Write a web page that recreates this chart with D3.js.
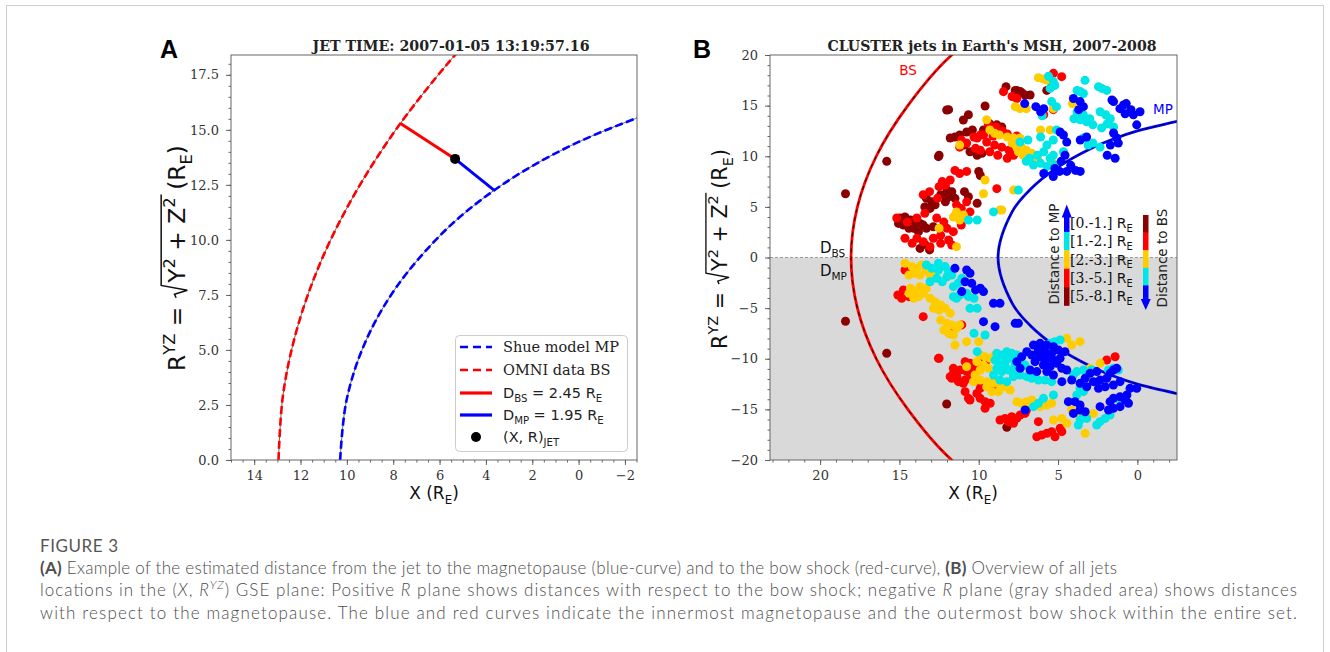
<!DOCTYPE html>
<html>
<head>
<meta charset="utf-8">
<script src="https://cdn.jsdelivr.net/npm/d3@7/dist/d3.min.js"></script>
<style>
  body { margin: 0; background: #fff; }
  svg { display: block; }
</style>
</head>
<body>
<svg id="fig" width="1330" height="652"></svg>
<script>
// ---------- Panel A: boundary curves, (X, R) in Earth radii ----------
const mpCurveA = [[10.29,0],[10.02,2.69],[9.22,5.32],[7.86,7.86],[5.92,10.26],[4.28,11.76],[2.32,13.16],[0,14.45],[-2.76,15.63],[-4.33,16.17]];
const bsCurveA = [[12.95,0],[12.75,3],[12.14,6],[11.13,9],[9.71,12],[7.89,15],[5.66,18],[3.95,20]];
const jetPointA = [5.33, 13.68];
const bsFootA = [7.7, 15.3];
const mpFootA = [3.65, 12.26];
const distBS = 2.45, distMP = 1.95;
const jetTime = "2007-01-05 13:19:57.16";

// ---------- Panel B: outermost bow shock / innermost magnetopause (upper half, mirrored) ----------
const bsCurveB = [[18.05,0],[17.65,5],[16.46,10],[14.47,15],[11.7,20],[10.3,21.5]];
const mpCurveB = [[8.78,0],[7.88,4.55],[6.74,6.74],[5.10,8.83],[2.89,10.79],[1.51,11.7],[0,12.5],[-2.5,13.45],[-3.4,13.8]];

// distance bins
const binLabels = ["[0.-1.]","[1.-2.]","[2.-3.]","[3.-5.]","[5.-8.]"];
const binColors = ["#0000ff","#00e5e5","#ffcc00","#ff0000","#8b0000"];

// jet locations (X, R) grouped by distance bin
const jetsBin58 = [
 [15.8,9.5],[12.54,9.96],[12.02,14.57],[9.6,14.96],[8.28,16.87],[7.6,16.5],[7.29,16.28],[7.08,16.05],[5.71,16.5],[7.7,16.5],[7.39,16.4],[6.76,16.05],[5.4,16.9],
 [10.76,12.4],[10.4,12.6],[11.2,12.1],[11.5,11.9],[11.8,11.8],[10.9,11.1],[10.55,10.45],[10.1,10.1],[9.8,10.3],[8.86,13.1],[9.0,12.4],[8.55,12.9],[9.3,13.2],
 [11.9,14.6],[10.65,14.1],[12.5,10.1],[10.97,13.58],[9.7,12.6],
 [10.0,8.5],[9.9,8.1],
 [12.0,6.66],[11.7,6.5],[11.9,6.0],[11.5,5.84],[12.1,5.5],[12.4,6.2],
 [10.9,6.5],[10.65,6.0],[10.1,5.35],
 [13.3,5.84],[12.96,5.5],[12.75,5.2],[13.07,4.85],[13.4,5.0],
 [14.96,3.9],[14.65,4.0],[14.3,3.7],[14.0,3.5],[13.7,3.37],[13.5,3.2],[14.1,2.88],[13.8,2.55],[13.3,2.88],[12.86,3.04],[14.75,3.2],[14.4,2.88],[15.06,3.37],
 [13.7,0.9],[13.1,0.75],[13.4,1.3],
 [18.4,6.3],[18.4,-6.3],[15.8,-9.46],[12.02,-14.47],[8.23,-16.77]
];
const jetsBin35 = [
 [8.44,16.38],[5.29,18.19],[4.77,17.86],[7.9,15.9],[7.6,15.7],[5.3,14.6],[5.9,14.1],
 [9.7,12.1],[9.9,12.1],[10.1,11.8],[9.5,11.4],[9.0,11.1],[8.55,10.9],[8.1,10.6],[7.8,10.1],[8.2,9.8],[8.8,10.1],[9.3,10.45],[9.9,10.6],[10.2,10.78],
 [11.1,11.6],[10.76,11.3],[10.3,11.9],[11.2,10.9],[9.4,13.2],[8.9,12.9],[8.5,12.5],[8.2,12.2],[9.1,12.0],[7.6,12.0],
 [11.5,8.6],[11.2,8.3],[10.76,8.5],[8.86,6.8],
 [12.3,7.5],[12.1,7.16],[11.8,7.65],[12.5,7.0],
 [13.5,6.2],[13.1,6.5],[12.6,5.84],
 [11.4,5.2],[11.1,4.85],[10.76,5.5],[10.55,4.5],
 [15.17,3.9],[14.5,3.5],[13.9,3.9],[13.4,4.36],[12.65,3.9],[12.2,3.5],[12.0,2.88],[11.6,2.55],[12.4,2.2],[12.86,1.9],[13.5,1.56],[13.9,1.9],[14.2,1.4],[14.65,1.9],[13.07,1.07],[12.4,1.4],[11.9,1.73],[11.7,1.23],[11.1,3.2],
 [12.54,-9.96],[14.65,-1.23],[14.2,-1.4],[14.75,-3.2],[15.1,-3.7],[14.86,-4.03],[14.4,-3.87],[13.5,-5.84],[11.07,-6.66],[11.8,-7.49],[12.5,-9.96],
 [10.86,-10.29],[10.55,-10.45],[10.23,-10.62],[9.91,-10.29],[9.5,-10.12],[11.17,-11.11],[10.76,-11.27],[10.33,-11.11],[11.6,-11.44],[11.7,-11.93],[11.28,-12.26],[10.86,-12.1],[10.44,-11.77],[10.97,-12.43],[9.91,-12.92],[10.12,-13.42],[9.81,-12.43],[9.39,-12.76],[9.07,-12.92],[8.76,-12.76],[8.44,-12.59],[8.97,-12.26],[10.65,-13.91],[9.91,-13.91],[9.6,-14.24],[9.28,-14.4],[10.86,-13.25],[11.6,-10.95],[11.8,-11.77],[11.38,-11.77],
 [10.55,-14.07],[9.6,-14.9],[7.0,-15.1],
 [8.66,-16.05],[8.34,-15.89],[7.92,-15.72],[7.6,-15.89],[7.39,-15.56],[7.08,-15.4],[7.81,-16.38],[8.13,-16.21],
 [6.34,-17.7],[6.03,-17.53],[5.71,-17.37],[5.4,-17.2],[5.19,-17.7],[4.87,-16.87],[4.76,-17.2],[6.24,-16.21],
 [1.93,-10.12],[1.4,-9.8]
];
const jetsBin23 = [
 [6.24,17.76],[5.92,17.63],[5.71,17.53],[7.7,14.9],[7.4,14.7],[7.0,14.7],[5.3,14.7],[4.1,15.2],[5.5,12.6],[6.1,12.6],
 [7.3,10.9],[7.0,10.6],[6.66,10.3],[7.2,10.1],[6.76,9.6],[6.3,9.8],[7.5,10.45],[5.4,9.5],
 [9.3,12.6],[9.0,12.26],[8.7,12.1],[8.2,11.9],[7.8,11.8],[7.4,11.8],[7.9,11.3],[7.6,10.9],
 [9.5,13.6],[11.2,11.1],
 [9.6,7.65],[7.8,6.66],[8.55,4.69],[11.4,4.5],[10.97,4.2],[11.2,3.7],[11.6,4.0],[12.5,2.9],[11.4,1.07],[8.66,4.7],[9.7,6.3],
 [14.65,-0.57],[14.2,-0.9],[13.9,-1.07],[13.6,-0.74],[14.1,-1.56],[13.7,-1.73],[14.4,-1.73],[13.3,-1.23],[13.07,-1.73],[12.75,-1.4],
 [14.3,-3.04],[14.0,-3.37],[13.7,-2.88],[13.5,-3.54],[14.1,-4.03],[13.8,-3.87],[13.3,-3.04],[14.4,-3.54],[13.07,-4.03],[12.75,-4.36],[12.4,-4.69],[12.86,-5.02],[12.5,-5.2],[12.1,-5.02],[11.8,-5.5],
 [12.4,-6.17],[12.0,-6.5],[11.7,-6.66],[11.4,-7.0],[12.2,-7.16],[11.9,-7.49],[11.6,-7.65],[11.2,-6.66],
 [11.5,-8.64],[10.76,-8.31],[10.0,-8.31],
 [9.91,-9.63],[9.6,-9.8],[9.28,-9.96],[8.97,-9.63],[10.12,-10.29],[9.7,-10.62],[9.39,-10.95],[9.91,-11.11],[10.23,-11.6],[9.91,-12.1],[9.5,-12.26],[9.07,-12.43],[8.66,-12.59],[8.34,-12.76],[8.02,-13.09],[8.76,-13.25],[9.18,-13.25],[9.5,-12.76],[10.33,-12.26],[10.76,-10.78],
 [7.6,-14.24],[7.29,-14.4],[6.97,-14.24],[6.66,-14.07],[6.34,-14.4],[6.13,-14.73],[5.71,-14.57],[5.4,-14.4],
 [5.29,-16.05],[4.76,-15.89],[4.45,-16.38],[4.14,-15.06],[3.61,-14.9],[3.29,-17.37],[3.61,-15.72],[3.19,-15.56],[2.77,-15.4],
 [2.35,-10.45],[2.98,-10.95],[4.45,-7.98],[3.61,-8.31],[4.14,-8.64]
];
const jetsBin12 = [
 [5.6,17.9],[5.3,17.4],[5.2,17.0],[5.5,16.7],[3.3,17.5],[2.45,16.87],[2.24,16.7],[1.93,16.5],[3.8,16.5],[3.6,16.4],[3.4,16.2],[5.4,15.4],[5.1,14.9],[6.0,14.0],
 [3.8,14.4],[3.4,14.1],[3.0,13.7],[3.2,13.4],[2.8,13.1],[3.6,13.6],[4.0,13.7],
 [2.35,14.4],[2.0,14.1],[1.7,13.7],[1.9,13.2],[1.5,12.9],[2.25,12.8],
 [2.35,10.9],[2.8,11.3],[3.4,11.8],[3.1,11.1],
 [4.66,10.45],[5.3,10.1],[5.5,9.8],[5.9,10.45],[6.3,10.1],[6.8,9.8],[7.0,9.5],[6.55,9.13],[6.1,9.3],[5.7,9.0],[5.2,9.13],
 [5.7,11.1],[5.3,11.6],[6.1,11.9],[6.9,11.6],[7.4,11.4],[5.1,12.6],
 [7.5,6.66],[9.07,4.5],[10.65,3.7],[10.1,3.7],
 [13.3,-0.74],[12.96,-1.07],[12.54,-0.57],[12.54,-1.23],[12.12,-0.9],[11.9,-1.4],[11.7,-1.73],[12.0,-1.9],[12.65,-2.06],[12.3,-2.39],[13.07,-2.39],
 [11.07,-2.06],[11.3,-2.55],[11.6,-2.88],[11.2,-3.7],[11.4,-4.03],[10.65,-3.87],[10.3,-4.03],[10.76,-3.54],[11.6,-3.87],
 [10.55,-5.02],[10.1,-5.02],[10.3,-7.49],[9.6,-7.65],[10.1,-9.3],
 [8.86,-9.46],[8.55,-9.63],[8.23,-9.3],[7.92,-9.46],[7.6,-9.63],[8.97,-10.12],[8.66,-10.45],[8.34,-10.29],[8.02,-9.96],[7.71,-10.62],[7.39,-10.45],[7.08,-10.62],[8.86,-10.95],[8.55,-11.27],[8.13,-11.11],[7.81,-11.44],[7.39,-11.6],[6.97,-11.77],[6.66,-11.93],[6.24,-12.1],[5.82,-12.1],[5.4,-12.26],[9.07,-11.6],[8.66,-12.1],[8.23,-12.26],[7.81,-11.77],[8.34,-10.78],
 [3.82,-11.27],[3.4,-11.11],[4.03,-11.6],[2.88,-11.11],[1.82,-11.11],[1.51,-10.95],[1.2,-11.11],[3.61,-12.92],[3.4,-13.25],[3.82,-13.58],[1.09,-14.07],[1.72,-15.56],[2.03,-15.89],[2.35,-16.21],[2.56,-16.54],[3.61,-16.05],[3.19,-15.89],[3.72,-16.54],[3.4,-15.72],
 [6.55,-14.73],[6.24,-14.4],[5.92,-13.91],[5.29,-13.58],
 [5.5,-8.48],[5.2,-8.31],[4.87,-8.15]
];
const jetsBin01 = [
 [7.1,15.2],[6.4,14.9],[5.9,14.7],[6.1,14.4],[4.03,15.7],[3.61,15.4],[3.4,14.9],[3.7,14.6],
 [1.5,15.4],[1.1,14.7],[0.7,15.2],[0.4,14.6],[0.25,14.1],[0.77,14.2],[0.04,13.1],[1.6,15.56],[0.87,15.06],[-0.17,14.4],
 [1.5,12.3],[1.3,11.8],[1.2,11.3],[1.7,11.1],[1.9,10.1],[1.4,9.8],
 [4.66,12.1],[4.87,12.4],[4.45,11.4],[3.6,11.6],[3.2,11.9],[4.56,10.1],[4.8,9.5],
 [5.2,8.8],[4.9,8.5],[4.45,8.5],[3.9,8.6],[3.6,8.5],[4.2,9.1],[5.9,8.3],[5.3,8.0],
 [11.5,-1.07],[10.76,-1.23],[10.55,-1.56],[10.86,-2.39],[10.44,-2.55],[10.2,-3.2],[9.9,-3.04],[9.7,-3.37],[11.07,-3.37],
 [9.07,-4.53],[8.66,-4.53],[8.97,-6.83],[9.7,-6.34],[7.7,-6.5],[7.5,-6.5],
 [6.55,-8.64],[6.13,-8.48],[5.71,-8.64],[5.29,-8.81],[6.24,-9.14],[5.82,-9.3],[5.4,-9.46],[4.98,-9.14],[6.66,-9.63],[6.13,-9.8],[5.71,-9.96],[5.29,-10.12],[4.87,-9.96],[6.45,-10.29],[5.92,-10.62],[5.5,-10.78],[5.08,-10.45],[6.76,-11.11],[6.34,-11.27],[5.71,-11.27],[5.29,-11.6],[4.76,-10.95],[6.97,-9.3],[7.29,-9.8],[7.6,-10.29],[7.39,-10.95],[4.56,-9.3],[5.92,-8.97],[5.61,-9.63],[6.34,-9.63],[5.82,-10.29],
 [4.45,-11.11],[4.14,-12.1],[4.76,-12.26],[3.61,-12.43],[3.29,-11.93],[2.98,-11.44],[2.56,-11.27],[2.77,-12.26],[3.19,-12.76],[2.35,-12.1],[1.93,-11.93],[1.72,-11.44],[1.51,-11.11],[1.3,-10.95],[2.03,-12.76],[1.51,-12.59],[2.45,-12.92],[1.09,-12.26],[0.46,-12.92],[0.04,-12.92],
 [4.35,-14.24],[3.93,-14.24],[3.61,-14.57],[3.61,-15.06],[3.29,-15.23],[4.03,-15.4],[1.72,-14.24],[1.51,-13.91],[1.09,-13.75],[0.77,-14.07],[0.56,-14.4],[1.09,-14.73],[1.51,-14.9],[1.82,-15.06],[2.35,-14.73],[0.66,-13.58],
 [7.08,-15.06]
];

// ---------- axis ticks ----------
const xTicksA = [14,12,10,8,6,4,2,0,-2];
const yTicksA = [0,2.5,5,7.5,10,12.5,15,17.5];
const xTicksB = [20,15,10,5,0];
const yTicksB = [-20,-15,-10,-5,0,5,10,15,20];

const svg = d3.select("#fig");
const SANS = "DejaVu Sans", SERIF = "DejaVu Serif";

// page frame
svg.append("rect").attr("x",6.5).attr("y",5.5).attr("width",1317).attr("height",680)
  .attr("fill","none").attr("stroke","#cfcfcf").attr("stroke-width",1);

// ---------- scales ----------
const xA = d3.scaleLinear().domain([15.0,-2.52]).range([231,637]);
const yA = d3.scaleLinear().domain([0,18.4]).range([460,55]);
const xB = d3.scaleLinear().domain([23.16,-2.5]).range([770,1177]);
const yB = d3.scaleLinear().domain([-20,20]).range([460,55]);

function range(a,b,step){ const out=[]; for(let v=a; v<=b+1e-9; v+=step) out.push(+v.toFixed(3)); return out; }

function drawAxes(x, y, xMajor, xMinor, yMajor, yMinor, xFmt, yFmt){
  const [xl,xr] = x.range(); const [yb,yt] = y.range();
  const style = g => {
    g.select(".domain").remove();
    g.selectAll(".tick line").attr("stroke","#555").attr("stroke-width",0.9);
    g.selectAll(".tick text").attr("font-family",SERIF).attr("font-size",13).attr("fill","#333");
  };
  svg.append("g").attr("transform",`translate(0,${yb})`)
    .call(d3.axisBottom(x).tickValues(xMinor).tickSize(2.5).tickFormat("")).call(style);
  svg.append("g").attr("transform",`translate(0,${yb})`)
    .call(d3.axisBottom(x).tickValues(xMajor).tickSize(5).tickPadding(6).tickFormat(xFmt)).call(style);
  svg.append("g").attr("transform",`translate(${xl},0)`)
    .call(d3.axisLeft(y).tickValues(yMinor).tickSize(2.5).tickFormat("")).call(style);
  svg.append("g").attr("transform",`translate(${xl},0)`)
    .call(d3.axisLeft(y).tickValues(yMajor).tickSize(5).tickPadding(7).tickFormat(yFmt)).call(style);
  svg.append("rect").attr("x",xl).attr("y",yt).attr("width",xr-xl).attr("height",yb-yt)
    .attr("fill","none").attr("stroke","#666").attr("stroke-width",1);
}

// text helper: pieces are [string, kind, family, weight, style] with kind "", "sub" or "sup"
function richText(sel, pieces, fs){
  let shift = 0;
  pieces.forEach(([s,k,fam,weight,style]) => {
    const target = k==="sub" ? fs*0.28 : k==="sup" ? -fs*0.42 : 0;
    const ts = sel.append("tspan").attr("dy", target-shift).text(s);
    if (k) ts.attr("font-size", fs*0.7);
    if (fam) ts.attr("font-family", fam);
    if (weight) ts.attr("font-weight", weight);
    if (style) ts.attr("font-style", style);
    shift = target;
  });
  return sel;
}

function yLabel(cx, cy, target){
  const fs = 17;
  const g = svg.append("g").attr("transform",`translate(${cx},${cy}) rotate(-90)`);
  const t = g.append("text").attr("text-anchor","middle").attr("font-family",SANS).attr("font-size",fs).attr("fill","#111");
  const pieces = [["R",""],["YZ","sup"],[" = ",""],["\u2002\u2009",""],["Y",""],["2","sup"],[" + Z",""],["2","sup"],["  (R",""],["E","sub"],[")",""]];
  richText(t, pieces, fs);
  const len = t.node().getComputedTextLength();
  const k = target/len;
  g.attr("transform",`translate(${cx},${cy}) rotate(-90) scale(${k})`);
  // radical sign spanning Y^2 + Z^2
  const n = t.node();
  const iRad = 6, iEnd = 14;
  const xs = n.getStartPositionOfChar(iRad).x;
  const xe = n.getEndPositionOfChar(iEnd).x + 2;
  const top = -fs*1.02;
  g.append("path")
    .attr("d",`M${xs+1},${-fs*0.38} L${xs+3.5},${-fs*0.45} L${xs+6.5},${fs*0.1} L${xs+10},${top} L${xe},${top}`)
    .attr("fill","none").attr("stroke","#111").attr("stroke-width",1.1);
}

function xLabel(cx, y){
  const t = svg.append("text").attr("x",cx).attr("y",y).attr("text-anchor","middle")
    .attr("font-family",SANS).attr("font-size",17).attr("fill","#111");
  richText(t, [["X (R",""],["E","sub"],[")",""]], 17);
}

// ================= Panel A =================
const clipA = svg.append("clipPath").attr("id","clipA").append("rect")
  .attr("x",231).attr("y",55).attr("width",406).attr("height",405);
const pA = svg.append("g").attr("clip-path","url(#clipA)");
const lineA = d3.line().x(d=>xA(d[0])).y(d=>yA(d[1])).curve(d3.curveCatmullRom);

[[mpCurveA,"#0000ff"],[bsCurveA,"#ff0000"]].forEach(([pts,col]) => {
  pA.append("path").attr("d",lineA(pts)).attr("fill","none").attr("stroke","#666").attr("stroke-width",1);
  pA.append("path").attr("d",lineA(pts)).attr("fill","none").attr("stroke",col)
    .attr("stroke-width",2.6).attr("stroke-dasharray","8,3.5");
});
pA.append("line").attr("x1",xA(bsFootA[0])).attr("y1",yA(bsFootA[1]))
  .attr("x2",xA(jetPointA[0])).attr("y2",yA(jetPointA[1])).attr("stroke","#ff0000").attr("stroke-width",3);
pA.append("line").attr("x1",xA(jetPointA[0])).attr("y1",yA(jetPointA[1]))
  .attr("x2",xA(mpFootA[0])).attr("y2",yA(mpFootA[1])).attr("stroke","#0000ff").attr("stroke-width",3);
pA.append("circle").attr("cx",xA(jetPointA[0])).attr("cy",yA(jetPointA[1])).attr("r",5).attr("fill","#000");

drawAxes(xA, yA, xTicksA, range(-2.5,15,0.5), yTicksA, range(0,18,0.5), d3.format("d"), d3.format(".1f"));

// legend A
const legA = svg.append("g");
legA.append("rect").attr("x",455.5).attr("y",335.5).attr("width",172).attr("height",116).attr("rx",4)
  .attr("fill","#fff").attr("fill-opacity",0.85).attr("stroke","#ccc");
const legRows = [
  {y:347, kind:"dash", col:"#0000ff", txt:[["Shue model MP","",SERIF]]},
  {y:370, kind:"dash", col:"#ff0000", txt:[["OMNI data BS","",SERIF]]},
  {y:393, kind:"solid", col:"#ff0000", txt:[["D",""],["BS","sub"],[" = "+distBS.toFixed(2)+" R",""],["E","sub"]]},
  {y:415, kind:"solid", col:"#0000ff", txt:[["D",""],["MP","sub"],[" = "+distMP.toFixed(2)+" R",""],["E","sub"]]},
  {y:437, kind:"dot", col:"#000", txt:[["(X, R)",""],["JET","sub"]]}
];
legRows.forEach(r => {
  if (r.kind==="dot") legA.append("circle").attr("cx",476).attr("cy",r.y).attr("r",5).attr("fill",r.col);
  else legA.append("line").attr("x1",460).attr("x2",492).attr("y1",r.y).attr("y2",r.y)
    .attr("stroke",r.col).attr("stroke-width",r.kind==="solid"?3.2:2.4)
    .attr("stroke-dasharray",r.kind==="dash"?"8,5":null);
  const t = legA.append("text").attr("x",503).attr("y",r.y+5).attr("font-family",SANS).attr("font-size",14.5).attr("fill","#222");
  richText(t, r.txt, 14.5);
});

svg.append("text").attr("x",451).attr("y",51).attr("text-anchor","middle")
  .attr("font-family",SERIF).attr("font-weight","bold").attr("font-size",14).attr("fill","#222")
  .attr("textLength",277).attr("lengthAdjust","spacingAndGlyphs").text("JET TIME: " + jetTime);
svg.append("text").attr("x",160).attr("y",58).attr("font-family","Liberation Sans").attr("font-weight","bold")
  .attr("font-size",25).attr("fill","#000").text("A");
yLabel(185, 258, 226);
xLabel(434, 499);

// ================= Panel B =================
const clipB = svg.append("clipPath").attr("id","clipB").append("rect")
  .attr("x",770).attr("y",55).attr("width",407).attr("height",405);
const pB = svg.append("g").attr("clip-path","url(#clipB)");
pB.append("rect").attr("x",770).attr("y",yB(0)).attr("width",407).attr("height",yB(-20)-yB(0)).attr("fill","#d9d9d9");
pB.append("line").attr("x1",770).attr("x2",1177).attr("y1",yB(0)).attr("y2",yB(0))
  .attr("stroke","#9a9a9a").attr("stroke-width",1).attr("stroke-dasharray","3,2");

const mirror = half => half.slice().reverse().map(d=>[d[0],-d[1]]).concat(half.slice(1));
const lineB = d3.line().x(d=>xB(d[0])).y(d=>yB(d[1])).curve(d3.curveCatmullRom);
[[bsCurveB,"#ff0000"],[mpCurveB,"#0000ff"]].forEach(([half,col]) => {
  const full = mirror(half);
  pB.append("path").attr("d",lineB(full)).attr("fill","none").attr("stroke",col).attr("stroke-width",2.8);
  pB.append("path").attr("d",lineB(full)).attr("fill","none").attr("stroke","#000").attr("stroke-width",1)
    .attr("stroke-dasharray","4,4");
});

const jetGroups = [jetsBin58, jetsBin35, jetsBin23, jetsBin12, jetsBin01];
const groupColors = [binColors[4], binColors[3], binColors[2], binColors[1], binColors[0]];
jetGroups.forEach((pts,i) => {
  pB.append("g").selectAll("circle").data(pts).join("circle")
    .attr("cx",d=>xB(d[0])).attr("cy",d=>yB(d[1])).attr("r",4.5).attr("fill",groupColors[i]);
});

drawAxes(xB, yB, xTicksB, range(-2,23,1), yTicksB, range(-20,20,1), d3.format("d"), d3.format("d"));

pB.append("text").attr("x",908).attr("y",75).attr("text-anchor","middle").attr("font-family",SANS)
  .attr("font-size",13.5).attr("fill","#ff0000").text("BS");
pB.append("text").attr("x",1163).attr("y",114).attr("text-anchor","middle").attr("font-family",SANS)
  .attr("font-size",13.5).attr("fill","#0000ff").text("MP");
richText(svg.append("text").attr("x",820).attr("y",253).attr("font-family",SANS).attr("font-size",15).attr("fill","#111"),
  [["D",""],["BS","sub"]], 15);
richText(svg.append("text").attr("x",820).attr("y",276).attr("font-family",SANS).attr("font-size",15).attr("fill","#111"),
  [["D",""],["MP","sub"]], 15);

// legend B: colour bars with arrows and bin labels
const legB = svg.append("g");
const segH = 18.4, top0 = 213.5;
binColors.forEach((c,i) => {
  legB.append("rect").attr("x",1064).attr("y",top0+i*segH).attr("width",5.5).attr("height",segH+0.3).attr("fill",c);
  legB.append("rect").attr("x",1143).attr("y",215+i*17.6).attr("width",5.5).attr("height",17.9).attr("fill",binColors[4-i]);
  const t = legB.append("text").attr("x",1070).attr("y",top0+i*segH+segH/2+5).attr("font-size",14).attr("fill","#111");
  richText(t, [[binLabels[i],"",SERIF],[" R","",SANS],["E","sub",SANS]], 14);
});
legB.append("path").attr("d",`M${1066.75-5},${top0+4} L${1066.75},${top0-9} L${1066.75+5},${top0+4} Z`).attr("fill","#0000ff");
legB.append("path").attr("d",`M${1145.75-5},${303-4} L${1145.75},${303+7} L${1145.75+5},${303-4} Z`).attr("fill","#0000ff");
legB.append("text").attr("transform","translate(1059,254) rotate(-90)").attr("text-anchor","middle")
  .attr("font-family",SANS).attr("font-size",13.5).attr("fill","#222").text("Distance to MP");
legB.append("text").attr("transform","translate(1167,258) rotate(-90)").attr("text-anchor","middle")
  .attr("font-family",SANS).attr("font-size",13.5).attr("fill","#222").text("Distance to BS");

svg.append("text").attr("x",992).attr("y",51).attr("text-anchor","middle")
  .attr("font-family",SERIF).attr("font-weight","bold").attr("font-size",14).attr("fill","#222")
  .attr("textLength",329).attr("lengthAdjust","spacingAndGlyphs").text("CLUSTER jets in Earth's MSH, 2007-2008");
svg.append("text").attr("x",693).attr("y",58).attr("font-family","Liberation Sans").attr("font-weight","bold")
  .attr("font-size",25).attr("fill","#000").text("B");
yLabel(727, 249, 200);
xLabel(973, 499);

// ================= Caption =================
const CAP = "Lato", capCol = "#4e4e4e";
svg.append("text").attr("x",40).attr("y",552).attr("font-family",CAP).attr("font-size",17).attr("fill","#555")
  .attr("textLength",78).attr("lengthAdjust","spacing").text("FIGURE 3");
function capLine(y, len, pieces){
  const t = svg.append("text").attr("x",40).attr("y",y).attr("font-family",CAP).attr("font-weight",300).attr("font-size",17)
    .attr("fill",capCol).attr("textLength",len).attr("lengthAdjust","spacing");
  richText(t, pieces, 17);
}
capLine(574, 1077, [["(A)","",null,"bold"],[" Example of the estimated distance from the jet to the magnetopause (blue-curve) and to the bow shock (red-curve), ",""],["(B)","",null,"bold"],[" Overview of all jets",""]]);
capLine(596, 1257, [["locations in the (",""],["X","",null,null,"italic"],[", ",""],["R","",null,null,"italic"],["YZ","sup",null,null,"italic"],[") GSE plane: Positive ",""],["R","",null,null,"italic"],[" plane shows distances with respect to the bow shock; negative ",""],["R","",null,null,"italic"],[" plane (gray shaded area) shows distances",""]]);
capLine(619, 1257, [["with respect to the magnetopause. The blue and red curves indicate the innermost magnetopause and the outermost bow shock within the entire set.",""]]);
</script>
</body>
</html>
